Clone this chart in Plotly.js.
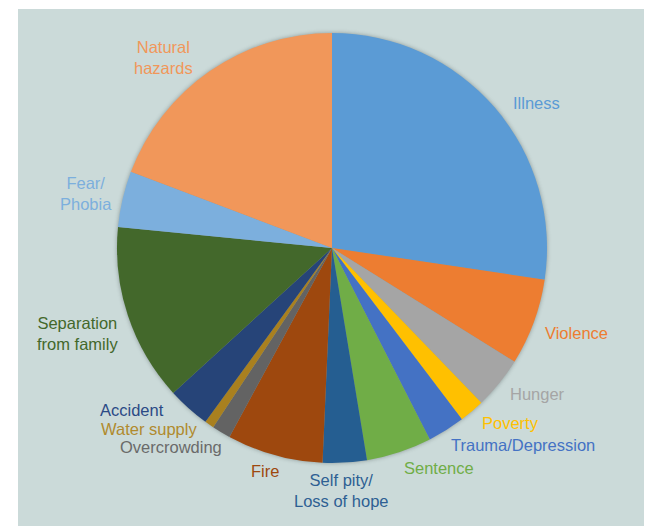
<!DOCTYPE html>
<html>
<head>
<meta charset="utf-8">
<script src="https://cdn.plot.ly/plotly-3.0.1.min.js"></script>
<style>
  html, body { margin: 0; padding: 0; background: #ffffff; }
  #bg { position: absolute; left: 18px; top: 9px; width: 626px; height: 517px; background: #cbdad9; }
  #chart { position: absolute; left: 0; top: 0; width: 665px; height: 526px; }
  #chart .pielayer { filter: drop-shadow(0px 0px 2px rgba(60,70,70,0.45)); }
</style>
</head>
<body>
<div id="bg"></div>
<div id="chart"></div>
<script>
// ---- data ----
var categories = ["Illness", "Violence", "Hunger", "Poverty", "Trauma/Depression", "Sentence",
                  "Self pity/ Loss of hope", "Fire", "Overcrowding", "Water supply", "Accident",
                  "Separation from family", "Fear/ Phobia", "Natural hazards"];
var shares = [27.3, 6.5, 3.9, 1.9, 2.8, 4.9, 3.3, 7.2, 1.4, 0.7, 3.2, 13.3, 4.2, 19.2];
var labelTexts = ["Illness", "Violence", "Hunger", "Poverty", "Trauma/Depression", "Sentence",
                  "Self pity/<br>Loss of hope", "Fire", "Overcrowding", "Water supply", "Accident",
                  "Separation<br>from family", "Fear/<br>Phobia", "Natural<br>hazards"];

// ---- styles ----
var sliceColors = ["#5b9bd5", "#ed7d31", "#a5a5a5", "#ffc000", "#4472c4", "#70ad47",
                   "#255e91", "#9e480e", "#636363", "#a9801f", "#264478",
                   "#43682b", "#7cafdd", "#f1975a"];
var textColors = ["#5b9bd5", "#ed7d31", "#a5a5a5", "#ffc000", "#4472c4", "#70ad47",
                  "#2e5f93", "#9e480e", "#6a6a6a", "#b08a2e", "#2b4a86",
                  "#43682b", "#7cafdd", "#f1975a"];
// label centre positions in pixels (x from left, y from top)
var labelPos = [[536, 103], [576, 333], [537, 394], [510, 423], [523, 445], [439, 468],
                [342, 490], [265, 471], [171, 447], [149, 429], [132, 410],
                [77, 333], [86, 194], [163, 58]];

var W = 665, H = 526;
var cx = 332, cy = 248, R = 215;

var annotations = labelTexts.map(function (t, i) {
  return {
    text: t,
    x: labelPos[i][0] / W,
    y: 1 - labelPos[i][1] / H,
    xref: "paper", yref: "paper",
    xanchor: "center", yanchor: "middle",
    showarrow: false,
    align: "center",
    font: { family: "Liberation Sans, Arial, sans-serif", size: 16.5, color: textColors[i] }
  };
});

var trace = {
  type: "pie",
  labels: categories,
  values: shares,
  sort: false,
  direction: "clockwise",
  rotation: 0,
  textinfo: "none",
  hoverinfo: "label+percent",
  marker: { colors: sliceColors, line: { width: 0 } },
  domain: {
    x: [(cx - R) / W, (cx + R) / W],
    y: [(H - cy - R) / H, (H - cy + R) / H]
  },
  showlegend: false
};

var layout = {
  width: W, height: H,
  margin: { l: 0, r: 0, t: 0, b: 0 },
  paper_bgcolor: "rgba(0,0,0,0)",
  plot_bgcolor: "rgba(0,0,0,0)",
  showlegend: false,
  annotations: annotations
};

Plotly.newPlot("chart", [trace], layout, { displayModeBar: false, staticPlot: true });
</script>
</body>
</html>
